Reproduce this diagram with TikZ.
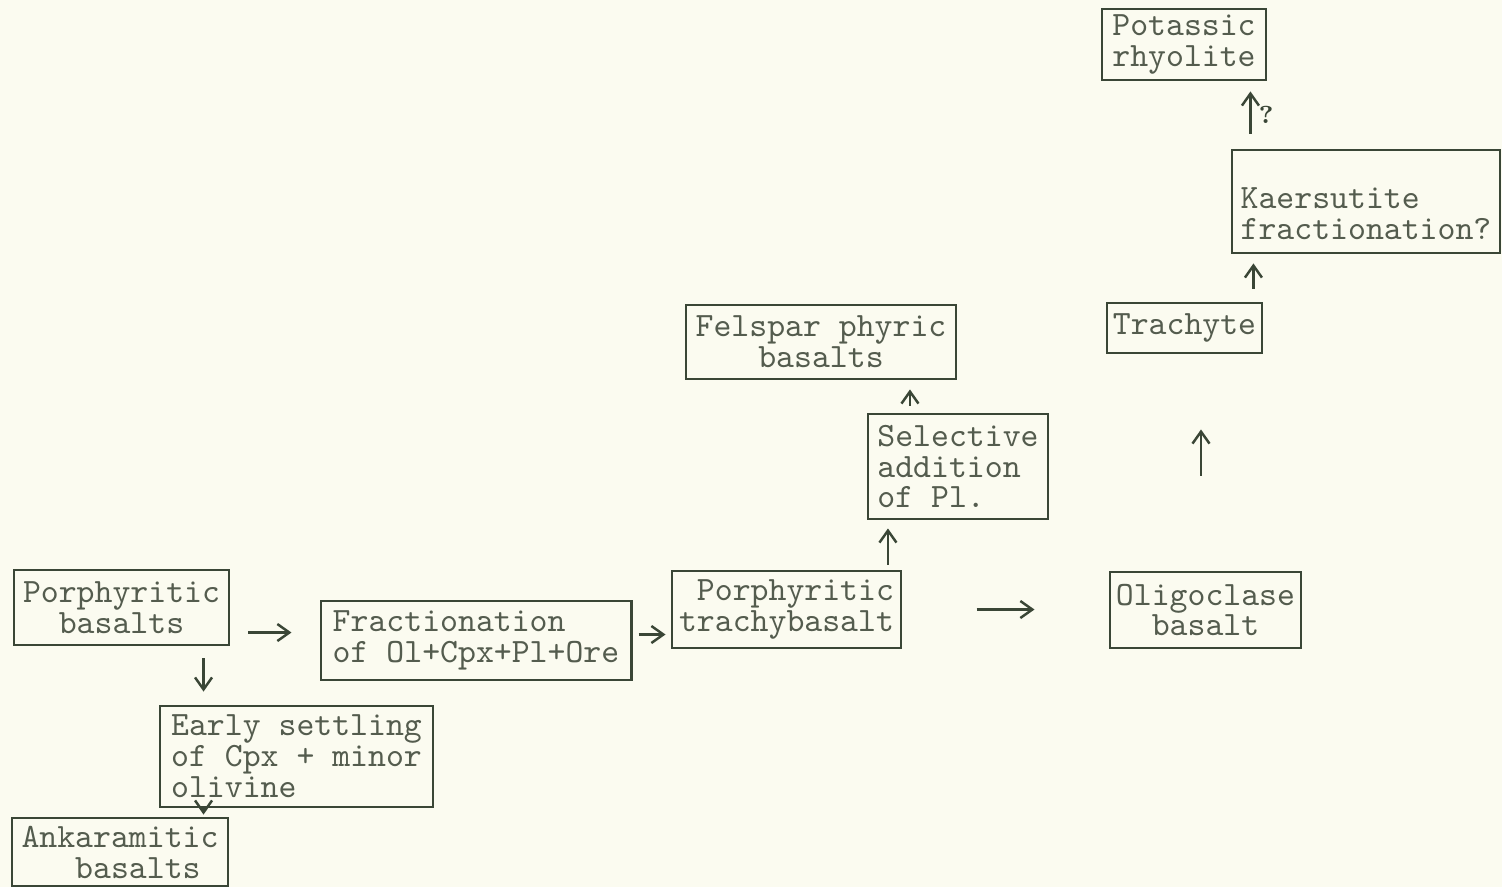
\documentclass[tikz,border=0pt]{standalone}
\usetikzlibrary{arrows.meta}

\definecolor{paper}{RGB}{251,251,240}
\definecolor{ink}{RGB}{58,70,54}
\definecolor{type}{RGB}{84,92,78}

\begin{document}
\begin{tikzpicture}[
  x=0.01cm, y=-0.01cm,
  rockbox/.style={draw=ink, line width=0.8pt, rectangle, inner sep=0pt, text=type,
    font=\fontsize{9.7}{8.8}\selectfont\ttfamily, align=center},
  >={Straight Barb[length=1.2mm,width=1.7mm]},
  flow/.style={->, draw=ink, line width=0.7pt}
]
\useasboundingbox[fill=paper] (0,0) rectangle (1502,887);

% Basaltic series, left to right
\node[rockbox, minimum width=2.15cm, minimum height=0.75cm] (pb) at (121.5,607.5) {Porphyritic\\basalts};
\node[rockbox, minimum width=3.10cm, minimum height=0.79cm, align=left] (fr) at (476,640.5) {Fractionation\\of Ol+Cpx+Pl+Ore};
\node[rockbox, minimum width=2.73cm, minimum height=1.01cm, align=left] (es) at (296.5,756.5) {Early settling\\of Cpx + minor\\olivine};
\node[rockbox, minimum width=2.16cm, minimum height=0.68cm, align=left] (ak) at (120,852) {Ankaramitic\\\phantom{Ank}basalts};
\node[rockbox, minimum width=2.29cm, minimum height=0.77cm, align=right] (pt) at (786.5,609.5) {Porphyritic\\trachybasalt};
\node[rockbox, minimum width=1.91cm, minimum height=0.76cm] (ol) at (1205.5,610) {Oligoclase\\basalt};

% Plagioclase branch
\node[rockbox, minimum width=1.80cm, minimum height=1.05cm, align=left] (sa) at (958,466.5) {Selective\\addition\\of Pl.};
\node[rockbox, minimum width=2.70cm, minimum height=0.74cm] (fp) at (821,342) {Felspar phyric\\basalts};

% Trachyte - rhyolite branch
\node[rockbox, minimum width=1.55cm, minimum height=0.50cm] (tr) at (1184.5,328) {Trachyte};
\node[rockbox, minimum width=2.68cm, minimum height=1.03cm, align=left] (ka) at (1366,201.5) {\mbox{}\\[0.14cm]Kaersutite\\fractionation?};
\node[rockbox, minimum width=1.64cm, minimum height=0.71cm] (po) at (1184,44.5) {Potassic\\rhyolite};

% Connections
\draw[flow, shorten <=0.18cm, shorten >=0.28cm] ([yshift=-0.25cm]pb.east) -- ([yshift=-0.25cm]pb.east -| fr.west);
\draw[flow, shorten <=0.12cm, shorten >=0.13cm] ([xshift=0.82cm]pb.south) -- ([xshift=0.82cm]pb.south |- es.north);
\draw[flow, shorten >=0.02cm] ([xshift=0.82cm]pb.south |- es.south) -- ([xshift=0.82cm]pb.south |- ak.north);
\draw[flow, shorten <=0.06cm, shorten >=0.05cm] ([yshift=0.06cm]fr.east) -- ([yshift=0.06cm]fr.east -| pt.west);
\draw[flow, shorten <=0.74cm, shorten >=0.74cm] (pt.east) -- (pt.east -| ol.west);

\draw[flow, shorten <=0.05cm, shorten >=0.08cm] ([xshift=-0.70cm]sa.south |- pt.north) -- ([xshift=-0.70cm]sa.south);
\draw[flow, shorten <=0.07cm, shorten >=0.09cm] ([xshift=-0.48cm]sa.north) -- ([xshift=-0.48cm]sa.north |- fp.south);

\draw[flow, shorten <=0.95cm, shorten >=0.75cm] ([xshift=-0.045cm]ol.north) -- ([xshift=-0.045cm]ol.north |- tr.south);
\draw[flow, shorten <=0.13cm, shorten >=0.09cm] ([xshift=-0.10cm]tr.north east) -- ([xshift=-0.10cm]tr.north east |- ka.south);
\draw[flow, shorten <=0.15cm, shorten >=0.10cm] ([xshift=-0.17cm]po.south east |- ka.north) -- node[right, text=ink, font=\fontsize{7}{8}\selectfont\bfseries, inner sep=2pt] {?} ([xshift=-0.17cm]po.south east);

\end{tikzpicture}
\end{document}
